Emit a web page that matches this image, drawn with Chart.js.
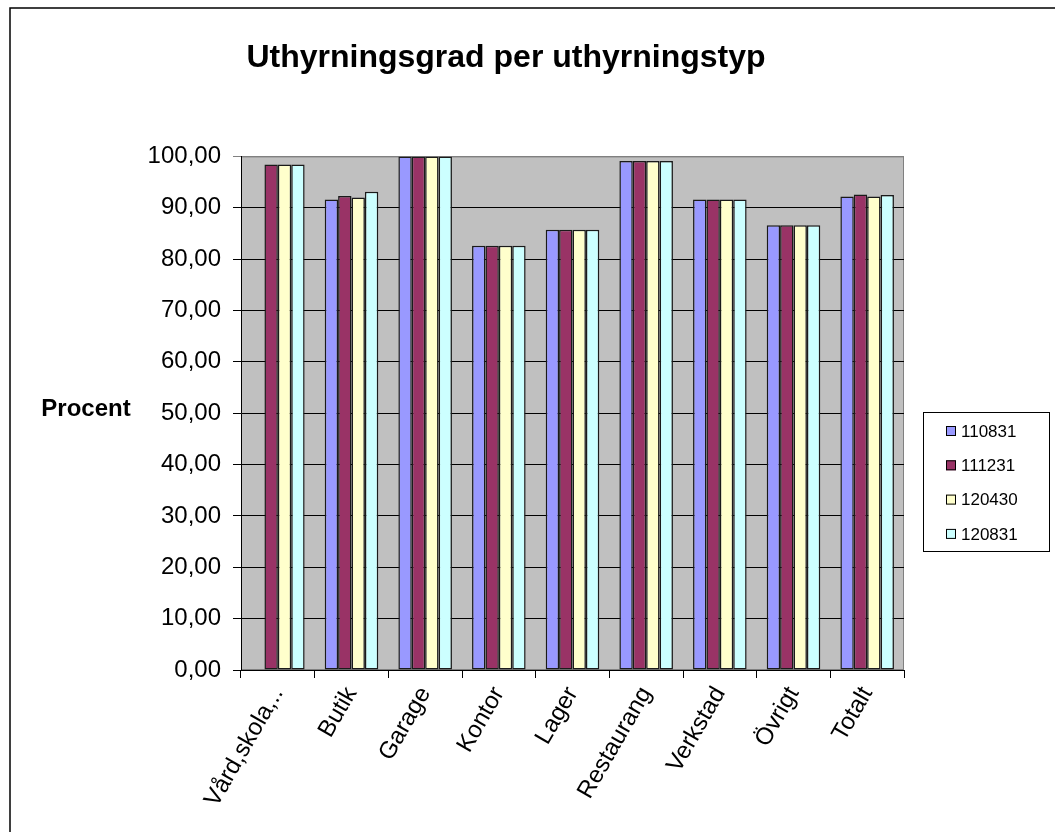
<!DOCTYPE html>
<html>
<head>
<meta charset="utf-8">
<script src="https://cdn.jsdelivr.net/npm/chart.js@4"></script>
<style>
html, body { margin: 0; padding: 0; background: #fff; overflow: hidden; }
</style>
</head>
<body>
<canvas id="chart" width="1055" height="832"></canvas>
<script>
// data
const categories = ['Vård,skola,..', 'Butik', 'Garage', 'Kontor', 'Lager', 'Restaurang', 'Verkstad', 'Övrigt', 'Totalt'];
const seriesNames = ['110831', '111231', '120430', '120831'];
const v110831 = [null, 91.6, 100, 82.6, 85.7, 99.1, 91.6, 86.6, 92.2];
const v111231 = [98.4, 92.3, 100, 82.6, 85.7, 99.1, 91.6, 86.6, 92.6];
const v120430 = [98.4, 92.0, 100, 82.6, 85.7, 99.1, 91.6, 86.6, 92.2];
const v120831 = [98.4, 93.1, 100, 82.6, 85.7, 99.1, 91.6, 86.6, 92.5];
const yTicks = [0, 10, 20, 30, 40, 50, 60, 70, 80, 90, 100];

const colors = ['#9999FF', '#993366', '#FFFFCC', '#CCFFFF'];
const FONT = '"Liberation Sans", Arial, sans-serif';
Chart.defaults.font.family = FONT;
Chart.defaults.color = '#000';

// grå plotyta, ram runt diagrammet, y-titel
const plotArea = {
    id: 'plotArea',
    beforeDraw(chart) {
        const { ctx, chartArea: a } = chart;
        ctx.save();
        ctx.fillStyle = '#fff';
        ctx.fillRect(0, 0, chart.width, chart.height);
        ctx.strokeStyle = '#000';
        ctx.lineWidth = 1.5;
        ctx.beginPath();
        ctx.moveTo(10, chart.height);
        ctx.lineTo(10, 8);
        ctx.lineTo(chart.width, 8);
        ctx.stroke();
        ctx.fillStyle = '#C0C0C0';
        ctx.fillRect(a.left, a.top, a.right - a.left, a.bottom - a.top);
        ctx.strokeStyle = '#808080';
        ctx.lineWidth = 1;
        ctx.strokeRect(a.left + 0.5, a.top + 0.5, a.right - a.left - 1, a.bottom - a.top - 1);
        ctx.font = 'bold 24px ' + FONT;
        ctx.fillStyle = '#000';
        ctx.textAlign = 'center';
        ctx.textBaseline = 'middle';
        ctx.fillText('Procent', 86, 409);
        ctx.restore();
    }
};

// legend med ram, som i Excel
const boxLegend = {
    id: 'boxLegend',
    afterDraw(chart) {
        const ctx = chart.ctx;
        ctx.save();
        ctx.strokeStyle = '#000';
        ctx.lineWidth = 1;
        ctx.strokeRect(923.5, 412.5, 126, 139);
        ctx.font = '17px ' + FONT;
        ctx.textBaseline = 'middle';
        chart.data.datasets.forEach((ds, i) => {
            const y = 431 + i * 34.3;
            ctx.fillStyle = ds.backgroundColor;
            ctx.fillRect(946, y - 5, 10, 10);
            ctx.strokeRect(946.5, y - 4.5, 9, 9);
            ctx.fillStyle = '#000';
            ctx.fillText(ds.label, 961, y + 1);
        });
        ctx.restore();
    }
};

const values = [v110831, v111231, v120430, v120831];
const datasets = seriesNames.map((name, i) => ({
    label: name,
    data: values[i],
    backgroundColor: colors[i],
    borderColor: '#1a1a1a',
    borderWidth: 1.5,
    borderSkipped: false,
    categoryPercentage: 4 / 5.5,
    barPercentage: 1
}));

new Chart(document.getElementById('chart'), {
    type: 'bar',
    data: { labels: categories, datasets },
    options: {
        responsive: false,
        animation: false,
        layout: { padding: { left: 108, right: 151, top: 0, bottom: 0 } },
        plugins: {
            legend: { display: false },
            tooltip: { enabled: false },
            title: {
                display: true,
                text: 'Uthyrningsgrad per uthyrningstyp',
                font: { size: 32, weight: 'bold' },
                color: '#000',
                padding: { top: 39, bottom: 79 }
            }
        },
        scales: {
            x: {
                afterFit(s) { s.height = 162; },
                grid: { drawOnChartArea: false, drawTicks: true, tickLength: 8, color: '#000', offset: true },
                border: { display: true, color: '#000', width: 1 },
                ticks: { autoSkip: false, minRotation: 60, maxRotation: 60, padding: 4, font: { size: 24 }, color: '#000' }
            },
            y: {
                min: 0,
                max: 100,
                afterFit(s) { s.width = 133; },
                afterBuildTicks(s) { s.ticks = yTicks.map(v => ({ value: v })); },
                grid: {
                    color: ctx => (ctx.tick && ctx.tick.value === 100 ? '#808080' : '#000'),
                    tickLength: 8,
                    lineWidth: 1
                },
                border: { display: true, color: '#000', width: 1 },
                ticks: {
                    padding: 12,
                    font: { size: 24 },
                    color: '#000',
                    callback: v => v.toFixed(2).replace('.', ',')
                }
            }
        }
    },
    plugins: [plotArea, boxLegend]
});
</script>
</body>
</html>
